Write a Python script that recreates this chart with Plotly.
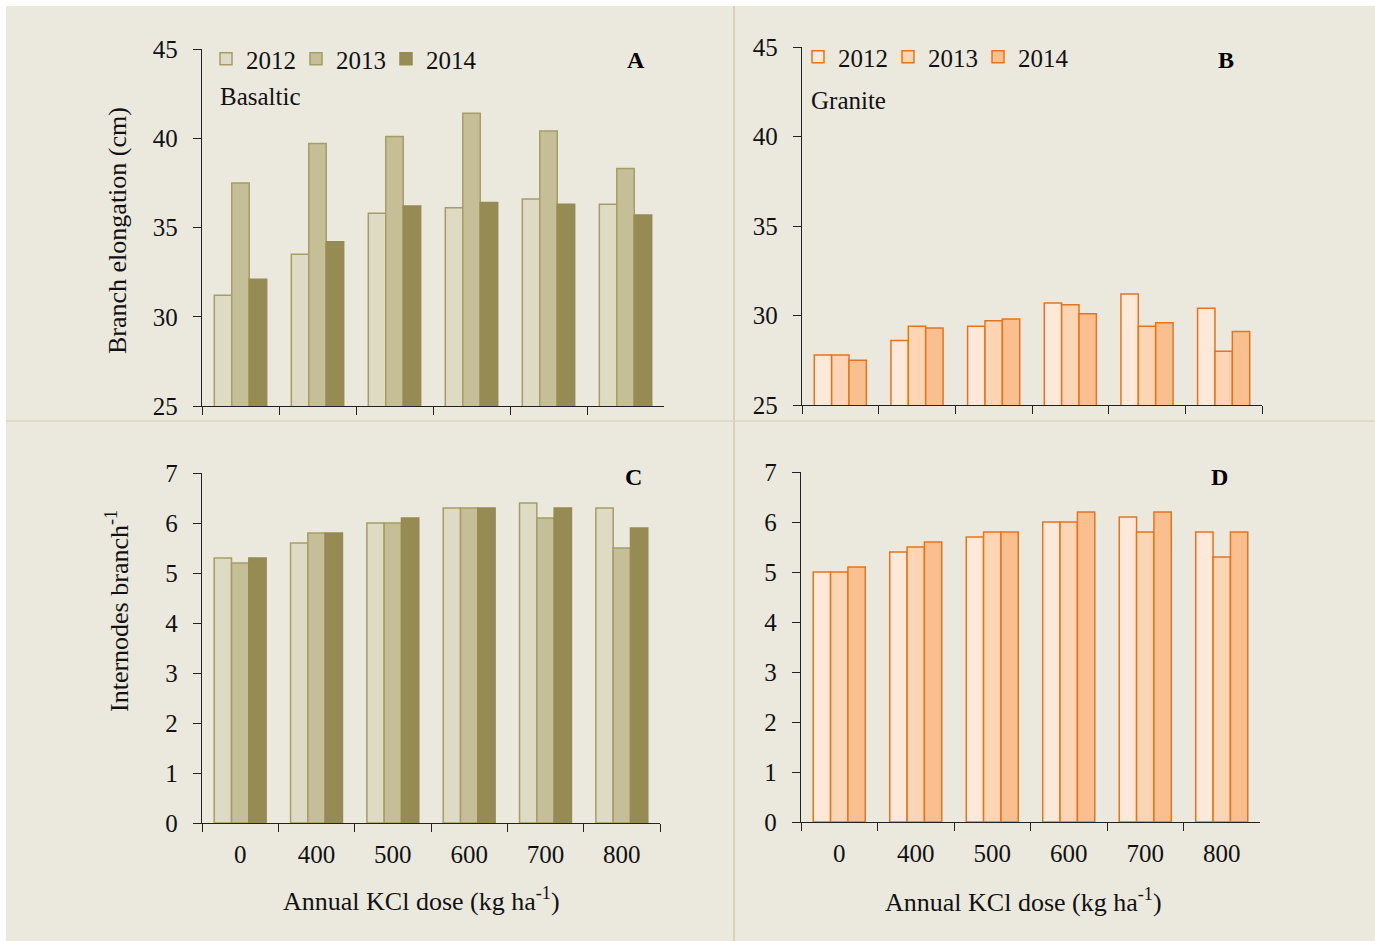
import plotly.graph_objects as go

# KCl doses (kg/ha) used as the x categories
doses = ["0", "400", "500", "600", "700", "800"]
years = ["2012", "2013", "2014"]

# Branch elongation (cm) - basaltic soil
elong_basaltic_2012 = [31.2, 33.5, 35.8, 36.1, 36.6, 36.3]
elong_basaltic_2013 = [37.5, 39.7, 40.1, 41.4, 40.4, 38.3]
elong_basaltic_2014 = [32.1, 34.2, 36.2, 36.4, 36.3, 35.7]

# Branch elongation (cm) - granite soil
elong_granite_2012 = [27.8, 28.6, 29.4, 30.7, 31.2, 30.4]
elong_granite_2013 = [27.8, 29.4, 29.7, 30.6, 29.4, 28.0]
elong_granite_2014 = [27.5, 29.3, 29.8, 30.1, 29.6, 29.1]

# Internodes per branch - basaltic soil
intern_basaltic_2012 = [5.3, 5.6, 6.0, 6.3, 6.4, 6.3]
intern_basaltic_2013 = [5.2, 5.8, 6.0, 6.3, 6.1, 5.5]
intern_basaltic_2014 = [5.3, 5.8, 6.1, 6.3, 6.3, 5.9]

# Internodes per branch - granite soil
intern_granite_2012 = [5.0, 5.4, 5.7, 6.0, 6.1, 5.8]
intern_granite_2013 = [5.0, 5.5, 5.8, 6.0, 5.8, 5.3]
intern_granite_2014 = [5.1, 5.6, 5.8, 6.2, 6.2, 5.8]

W, H = 1375, 941
BG = "#EBE9DE"
FONT = "Liberation Serif"

olive_fill = ["#DFDAC3", "#C5BE97", "#958B53"]
olive_line = ["#A59D66", "#A59D66", "#958B53"]
orange_fill = ["#FDE9D9", "#FCD5B4", "#FABF8F"]
orange_line = ["#E8731C", "#E8731C", "#E8731C"]


def px_x(a, b):
    return [a / W, b / W]


def px_y(top, bottom):
    return [1 - bottom / H, 1 - top / H]


fig = go.Figure()

panels = [
    # (axis suffix, series, fills, lines, legend name or None)
    ("", [elong_basaltic_2012, elong_basaltic_2013, elong_basaltic_2014], olive_fill, olive_line, "legend"),
    ("2", [elong_granite_2012, elong_granite_2013, elong_granite_2014], orange_fill, orange_line, "legend2"),
    ("3", [intern_basaltic_2012, intern_basaltic_2013, intern_basaltic_2014], olive_fill, olive_line, None),
    ("4", [intern_granite_2012, intern_granite_2013, intern_granite_2014], orange_fill, orange_line, None),
]

for suffix, series, fills, lines, leg in panels:
    for yr, vals, fc, lc in zip(years, series, fills, lines):
        fig.add_trace(go.Bar(
            x=doses, y=vals, name=yr,
            xaxis="x" + suffix, yaxis="y" + suffix,
            marker=dict(color=fc, line=dict(color=lc, width=1.5)),
            showlegend=leg is not None,
            legend=leg if leg else "legend",
        ))

axis_line = "#222222"
tick_font = dict(family=FONT, size=25, color="#111111")

domains = {
    "": (px_x(202, 664), px_y(49, 406), [25, 45], 5, False),
    "2": (px_x(802, 1262), px_y(47, 405), [25, 45], 5, False),
    "3": (px_x(202, 660), px_y(473, 823), [0, 7], 1, True),
    "4": (px_x(801, 1260), px_y(472, 822), [0, 7], 1, True),
}

layout_axes = {}
for suffix, (xd, yd, yr, dt, show_x) in domains.items():
    layout_axes["xaxis" + suffix] = dict(
        domain=xd, anchor="y" + suffix, type="category",
        range=[-0.5, 5.5], tickson="boundaries",
        showline=True, linecolor=axis_line, linewidth=1.4,
        ticks="outside", ticklen=8, tickwidth=1.4, tickcolor=axis_line,
        showticklabels=show_x, tickfont=tick_font, ticklabelstandoff=9,
        showgrid=False, zeroline=False, fixedrange=True, automargin=False,
    )
    layout_axes["yaxis" + suffix] = dict(
        domain=yd, anchor="x" + suffix, range=yr, dtick=dt, tick0=0,
        showline=True, linecolor=axis_line, linewidth=1.4,
        ticks="outside", ticklen=8, tickwidth=1.4, tickcolor=axis_line,
        tickfont=tick_font, ticklabelstandoff=10,
        showgrid=False, zeroline=False, fixedrange=True, automargin=False,
    )

legend_common = dict(
    orientation="h", bgcolor="rgba(0,0,0,0)", borderwidth=0,
    font=dict(family=FONT, size=25, color="#111111"),
    entrywidth=45, xanchor="left", yanchor="middle", traceorder="normal",
)

ann_font = dict(family=FONT, size=25, color="#111111")
bold_font = dict(family=FONT, size=24, color="#000000")


def ann(text, x, y, font, xanchor="center", **kw):
    return dict(text=text, x=x / W, y=1 - y / H, xref="paper", yref="paper",
                xanchor=xanchor, yanchor="middle",
                showarrow=False, font=font, **kw)


annotations = [
    ann("<b>A</b>", 636, 60, bold_font),
    ann("<b>B</b>", 1226, 60, bold_font),
    ann("<b>C</b>", 633, 477, bold_font),
    ann("<b>D</b>", 1219, 477, bold_font),
    ann("Basaltic", 218, 97, ann_font, xanchor="left"),
    ann("Granite", 809, 100, ann_font, xanchor="left"),
    ann("Branch elongation (cm)", 117, 231, dict(ann_font, size=26), textangle=-90),
    ann("Internodes branch<sup>-1</sup>", 117, 611, dict(ann_font, size=26), textangle=-90),
    ann("Annual KCl dose (kg ha<sup>-1</sup>)", 421, 899, dict(ann_font, size=26)),
    ann("Annual KCl dose (kg ha<sup>-1</sup>)", 1024, 900, dict(ann_font, size=26)),
]

shapes = [
    # beige panel background with thin white border at left/top
    dict(type="rect", xref="paper", yref="paper", x0=6 / W, x1=1, y0=0, y1=1 - 6 / H,
         fillcolor=BG, line=dict(width=0), layer="below"),
    # panel dividers
    dict(type="line", xref="paper", yref="paper", x0=734 / W, x1=734 / W, y0=0, y1=1 - 6 / H,
         line=dict(color="#D8D0BA", width=2), layer="below"),
    dict(type="line", xref="paper", yref="paper", x0=6 / W, x1=1, y0=1 - 421 / H, y1=1 - 421 / H,
         line=dict(color="#DAD4C0", width=1.5), layer="below"),
]

fig.update_layout(
    width=W, height=H,
    margin=dict(l=0, r=0, t=0, b=0, pad=0, autoexpand=False),
    paper_bgcolor="white", plot_bgcolor="rgba(0,0,0,0)",
    barmode="group", bargap=0.32, bargroupgap=0,
    font=dict(family=FONT, color="#111111"),
    legend=dict(legend_common, x=206 / W, y=1 - 59 / H),
    legend2=dict(legend_common, x=798 / W, y=1 - 57 / H),
    annotations=annotations, shapes=shapes,
    **layout_axes,
)

fig.write_html("out.html")
